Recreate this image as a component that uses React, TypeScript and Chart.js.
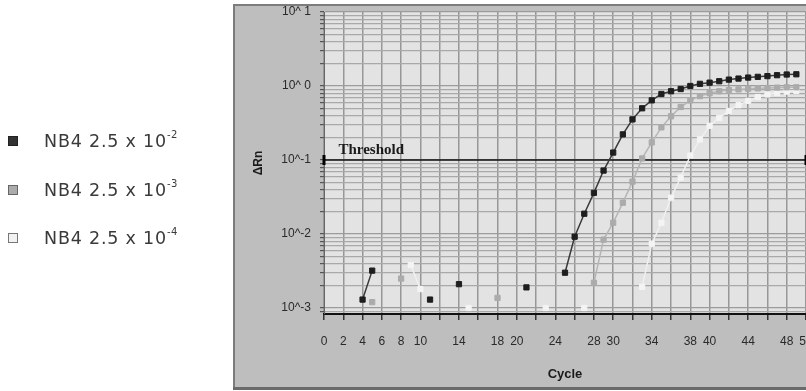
import React, { useEffect, useRef } from 'react';
import { Chart, registerables } from 'chart.js';

Chart.register(...registerables);

const cycles = [
  0, 1, 2, 3, 4, 5, 6, 7, 8, 9, 10, 11, 12, 13, 14, 15, 16, 17, 18, 19, 20,
  21, 22, 23, 24, 25, 26, 27, 28, 29, 30, 31, 32, 33, 34, 35, 36, 37, 38, 39,
  40, 41, 42, 43, 44, 45, 46, 47, 48, 49, 50,
];

const seriesNames = ['NB4 2.5 x 10', 'NB4 2.5 x 10', 'NB4 2.5 x 10'];
const seriesExponents = ['-2', '-3', '-4'];

// ΔRn per cycle (null = not shown)
const darkValues = [
  null, null, null, null, 0.0013, 0.0032, null, null, null, null, null,
  0.0013, null, null, 0.0021, null, null, null, null, null, null,
  0.0019, null, null, null, 0.003, 0.0092, 0.0188, 0.036, 0.072, 0.126,
  0.222, 0.354, 0.5, 0.64, 0.78, 0.85, 0.91, 1.0, 1.07, 1.11,
  1.16, 1.22, 1.26, 1.3, 1.33, 1.36, 1.4, 1.43, 1.44, null,
];
const grayValues = [
  null, null, null, null, null, 0.0012, null, null, 0.0025, null, null,
  null, null, null, null, null, null, null, 0.00137, null, null,
  null, null, null, null, null, null, null, 0.0022, 0.0084, 0.0142,
  0.0265, 0.051, 0.105, 0.173, 0.276, 0.39, 0.52, 0.64, 0.73, 0.8,
  0.85, 0.88, 0.9, 0.92, 0.93, 0.94, 0.95, 0.96, 0.96, null,
];
const whiteValues = [
  null, null, null, null, null, null, null, null, null, 0.0038, 0.0018,
  null, null, null, null, 0.001, null, null, null, null, null,
  null, null, 0.001, null, null, null, 0.001, null, null, null,
  null, null, 0.00193, 0.0074, 0.0142, 0.031, 0.058, 0.115, 0.19, 0.29,
  0.37, 0.46, 0.55, 0.63, 0.71, 0.77, 0.81, 0.84, 0.86, null,
];

const thresholdValue = 0.1;
const thresholdLabel = 'Threshold';

const xTickLabels = [0, 2, 4, 6, 8, 10, 14, 18, 20, 24, 28, 30, 34, 38, 40, 44, 48, 50];
const yDecades = [10, 1, 0.1, 0.01, 0.001];
const yDecadeLabels = ['10^ 1', '10^ 0', '10^-1', '10^-2', '10^-3'];

const Y_MIN = 0.00083;
const Y_MAX = 10;

const seriesColors = ['#1e1e1e', '#ababab', '#f4f4f4'];
const seriesLineColors = ['#3a3a3a', '#b6b6b6', '#f0f0f0'];
const legendFills = ['#333', '#ababab', '#f2f2f2'];
const legendBorders = ['#222', '#666', '#777'];

const backgroundPlugin = {
  id: 'panelBg',
  beforeDraw(chart: any) {
    const { ctx, chartArea } = chart;
    ctx.save();
    ctx.fillStyle = '#bebebe';
    ctx.fillRect(233, 4, 600, 385);
    ctx.strokeStyle = '#7c7c7c';
    ctx.lineWidth = 2;
    ctx.beginPath();
    ctx.moveTo(234, 389);
    ctx.lineTo(234, 5);
    ctx.lineTo(810, 5);
    ctx.stroke();
    ctx.strokeStyle = '#6a6a6a';
    ctx.lineWidth = 3;
    ctx.beginPath();
    ctx.moveTo(233, 388.5);
    ctx.lineTo(810, 388.5);
    ctx.stroke();
    ctx.fillStyle = '#e3e3e3';
    ctx.fillRect(chartArea.left, chartArea.top, chartArea.right - chartArea.left, chartArea.bottom - chartArea.top);
    ctx.restore();
  },
  afterDraw(chart: any) {
    const { ctx } = chart;
    const xs = chart.scales.x;
    const ys = chart.scales.y;
    ctx.save();
    ctx.font = 'bold 15px "Liberation Serif", "DejaVu Serif", serif';
    ctx.fillStyle = '#1a1a1a';
    ctx.textBaseline = 'alphabetic';
    ctx.fillText(thresholdLabel, xs.getPixelForValue(1.5), ys.getPixelForValue(thresholdValue) - 6);
    ctx.restore();
  },
};

function makeSeries(values: (number | null)[], idx: number) {
  return {
    label: seriesNames[idx] + seriesExponents[idx],
    data: cycles.map((c, i) => ({ x: c, y: values[i] })),
    borderColor: seriesLineColors[idx],
    borderWidth: 1.5,
    pointStyle: 'rect',
    pointRadius: 3.7,
    pointBorderWidth: 1,
    pointBackgroundColor: seriesColors[idx],
    pointBorderColor: seriesColors[idx],
    spanGaps: false,
    tension: 0,
  };
}

export default function App() {
  const ref = useRef<HTMLCanvasElement | null>(null);

  useEffect(() => {
    if (!ref.current) return;
    Chart.defaults.font.family = '"Liberation Sans", Arial, sans-serif';
    const chart = new Chart(ref.current, {
      type: 'line',
      data: {
        datasets: [
          makeSeries(darkValues, 0),
          makeSeries(grayValues, 1),
          makeSeries(whiteValues, 2),
          {
            label: thresholdLabel,
            data: [
              { x: cycles[0], y: thresholdValue },
              { x: cycles[cycles.length - 1], y: thresholdValue },
            ],
            borderColor: '#111',
            borderWidth: 1.5,
            pointStyle: 'line',
            pointRotation: 90,
            pointRadius: 5,
            pointBorderWidth: 3,
            pointBorderColor: '#000',
            pointBackgroundColor: '#000',
            clip: false,
          } as any,
        ],
      },
      options: {
        animation: false,
        responsive: false,
        maintainAspectRatio: false,
        events: [],
        layout: { autoPadding: false, padding: { left: 233, top: 12, right: 0, bottom: 0 } },
        plugins: { legend: { display: false }, tooltip: { enabled: false } },
        scales: {
          x: {
            type: 'linear',
            min: 0,
            max: 50,
            afterFit(scale: any) {
              scale.height = 77;
              scale.paddingLeft = 0;
              scale.paddingRight = 0;
            },
            ticks: {
              stepSize: 2,
              autoSkip: false,
              maxRotation: 0,
              padding: 14,
              color: '#2a2a2a',
              font: { size: 12 },
              callback: (v: any) => (xTickLabels.includes(Number(v)) ? String(v) : ''),
            },
            grid: {
              color: '#979797',
              lineWidth: 1.5,
              tickLength: 6,
              tickColor: '#333',
              tickWidth: 1.5,
            },
            border: { color: '#111', width: 2 },
            title: {
              display: true,
              text: 'Cycle',
              color: '#1a1a1a',
              font: { size: 13, weight: 'bold' },
              padding: { top: 0, bottom: 9 },
            },
          },
          y: {
            type: 'logarithmic',
            min: Y_MIN,
            max: Y_MAX,
            afterFit(scale: any) {
              scale.width = 91;
              scale.paddingTop = 0;
              scale.paddingBottom = 0;
            },
            afterBuildTicks(scale: any) {
              const ticks: any[] = [];
              for (let e = -4; e <= 1; e++) {
                for (let m = 1; m <= 9; m++) {
                  const v = m * Math.pow(10, e);
                  if (v >= Y_MIN * 0.999 && v <= Y_MAX * 1.001) ticks.push({ value: v, major: m === 1 });
                }
              }
              scale.ticks = ticks;
            },
            ticks: {
              autoSkip: false,
              padding: 9,
              color: '#2a2a2a',
              font: { size: 12 },
              callback: (v: any) => {
                const i = yDecades.findIndex((d) => Math.abs(d - Number(v)) / d < 1e-6);
                return i >= 0 ? yDecadeLabels[i] : '';
              },
            },
            grid: {
              color: (c: any) => (c.tick && c.tick.major ? '#9c9c9c' : '#a9a9a9'),
              lineWidth: 1.2,
              tickLength: 4,
              tickColor: '#555',
            },
            border: { color: '#666', width: 1 },
            title: {
              display: true,
              text: 'ΔRn',
              color: '#1a1a1a',
              font: { size: 12, weight: 'bold' },
              padding: { top: 18, bottom: 0 },
            },
          },
        },
      } as any,
      plugins: [backgroundPlugin],
    });
    return () => chart.destroy();
  }, []);

  const rowTops = [141, 190, 238];

  return (
    <div style={{ position: 'fixed', left: 0, top: 0, width: 806, height: 391, background: '#fff', overflow: 'hidden' }}>
      <canvas ref={ref} width={806} height={391} style={{ position: 'absolute', left: 0, top: 0, width: 806, height: 391 }} />
      {seriesNames.map((name, i) => (
        <div
          key={i}
          style={{
            position: 'absolute',
            left: 0,
            top: rowTops[i] - 12,
            height: 24,
            display: 'flex',
            alignItems: 'center',
            fontFamily: '"DejaVu Sans", sans-serif',
            fontSize: 17.5,
            letterSpacing: 0.8,
            color: '#3a3a3a',
            whiteSpace: 'nowrap',
          }}
        >
          <span
            style={{
              display: 'inline-block',
              width: 8,
              height: 8,
              marginLeft: 8,
              marginRight: 26,
              background: legendFills[i],
              border: '1px solid ' + legendBorders[i],
            }}
          />
          <span>
            {name}
            <sup style={{ fontSize: 10, letterSpacing: 0.5, verticalAlign: 'top', position: 'relative', top: -2 }}>{seriesExponents[i]}</sup>
          </span>
        </div>
      ))}
    </div>
  );
}
